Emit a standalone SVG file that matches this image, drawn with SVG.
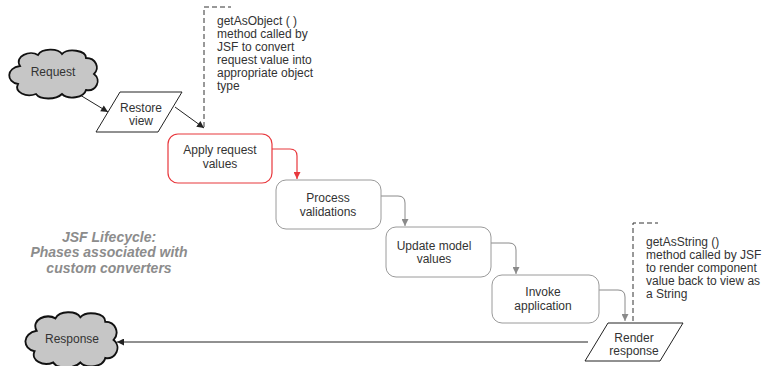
<svg xmlns="http://www.w3.org/2000/svg" width="767" height="366" viewBox="0 0 767 366">
  <style>
    .lbl { font-family: "Liberation Sans", Arial, sans-serif; font-size: 12px; fill: #333; text-anchor: middle; }
    .note { font-family: "Liberation Sans", Arial, sans-serif; font-size: 12px; fill: #333; }
    .title { font-family: "Liberation Sans", Arial, sans-serif; font-size: 14px; font-weight: bold; font-style: italic; fill: #8c8c8c; text-anchor: middle; }
    .cloud { fill: #c6c6c6; stroke: #111; stroke-width: 1.8; }
    .phase { fill: #fff; stroke: #9a9a9a; stroke-width: 1; }
    .active { fill: #fff; stroke: #e8383d; stroke-width: 1.2; }
    .para { fill: #fff; stroke: #222; stroke-width: 1; }
    .edge { fill: none; stroke: #222; stroke-width: 1; }
    .edge-red { fill: none; stroke: #e8383d; stroke-width: 1.2; }
    .edge-grey { fill: none; stroke: #8a8a8a; stroke-width: 1; }
    .dash { fill: none; stroke: #333; stroke-width: 1; stroke-dasharray: 5 3; }
  </style>
  <defs>
    <marker id="arrow-black" viewBox="0 0 10 10" refX="10" refY="5" markerWidth="8" markerHeight="7" markerUnits="userSpaceOnUse" orient="auto">
      <path d="M0,0 L10,5 L0,10 Z" fill="#222"/>
    </marker>
    <marker id="arrow-red" viewBox="0 0 10 10" refX="10" refY="5" markerWidth="8" markerHeight="7" markerUnits="userSpaceOnUse" orient="auto">
      <path d="M0,0 L10,5 L0,10 Z" fill="#e8383d"/>
    </marker>
    <marker id="arrow-grey" viewBox="0 0 10 10" refX="10" refY="5" markerWidth="8" markerHeight="7" markerUnits="userSpaceOnUse" orient="auto">
      <path d="M0,0 L10,5 L0,10 Z" fill="#8a8a8a"/>
    </marker>
    <path id="cloud-shape" d="M20,66 C14,56 30,50 38,55 C42,48 58,48 62,54 C68,48 86,50 86,58 C96,58 100,68 94,74 C102,80 96,92 86,90 C84,98 68,100 62,94 C56,100 40,100 36,94 C26,98 14,92 18,84 C6,82 6,68 20,66 Z"/>
  </defs>

  <!-- connectors -->
  <g id="connectors">
    <line class="edge" x1="80" y1="95" x2="108" y2="112" marker-end="url(#arrow-black)"/>
    <line class="edge" x1="175" y1="107" x2="204" y2="128" marker-end="url(#arrow-black)"/>
    <path class="edge-red" d="M272,149 L290,149 Q297,149 297,156 L297,179" marker-end="url(#arrow-red)"/>
    <path class="edge-grey" d="M381,196 L398,196 Q405,196 405,203 L405,226" marker-end="url(#arrow-grey)"/>
    <path class="edge-grey" d="M491,243 L509,243 Q516,243 516,250 L516,274" marker-end="url(#arrow-grey)"/>
    <path class="edge-grey" d="M599,290 L618,290 Q625,290 625,297 L625,321" marker-end="url(#arrow-grey)"/>
    <line class="edge" x1="588" y1="342" x2="117" y2="342" marker-end="url(#arrow-black)"/>
  </g>

  <!-- nodes -->
  <g id="request">
    <use href="#cloud-shape" class="cloud"/>
    <text class="lbl" x="53" y="76">Request</text>
  </g>

  <g id="restore-view">
    <polygon class="para" points="120,92 182,92 158,132 96,132"/>
    <text class="lbl" x="141" y="112">Restore</text>
    <text class="lbl" x="141" y="125">view</text>
  </g>

  <g id="apply-request-values">
    <rect class="active" x="168" y="134" width="104" height="49" rx="10"/>
    <text class="lbl" x="220" y="154">Apply request</text>
    <text class="lbl" x="220" y="168">values</text>
  </g>

  <g id="process-validations">
    <rect class="phase" x="276" y="180" width="105" height="49" rx="10"/>
    <text class="lbl" x="328" y="202">Process</text>
    <text class="lbl" x="328" y="216">validations</text>
  </g>

  <g id="update-model-values">
    <rect class="phase" x="386" y="227" width="105" height="50" rx="10"/>
    <text class="lbl" x="434" y="250">Update model</text>
    <text class="lbl" x="434" y="263">values</text>
  </g>

  <g id="invoke-application">
    <rect class="phase" x="492" y="275" width="107" height="48" rx="10"/>
    <text class="lbl" x="543" y="296">Invoke</text>
    <text class="lbl" x="543" y="310">application</text>
  </g>

  <g id="render-response">
    <polygon class="para" points="608,323 683,323 660,361 585,361"/>
    <text class="lbl" x="634" y="342">Render</text>
    <text class="lbl" x="634" y="355">response</text>
  </g>

  <g id="response">
    <use href="#cloud-shape" class="cloud" transform="translate(72,341) scale(1.04,1.13) translate(-54,-75)"/>
    <text class="lbl" x="72" y="343">Response</text>
  </g>

  <!-- converter notes -->
  <g id="note-get-as-object">
    <polyline class="dash" points="204,127 204,7 231,7"/>
    <text class="note" x="217" y="25">getAsObject ( )</text>
    <text class="note" x="217" y="38">method called by</text>
    <text class="note" x="217" y="51">JSF to convert</text>
    <text class="note" x="217" y="64">request value into</text>
    <text class="note" x="217" y="77">appropriate object</text>
    <text class="note" x="217" y="90">type</text>
  </g>

  <g id="note-get-as-string">
    <polyline class="dash" points="633,321 633,223 658,223"/>
    <text class="note" x="646" y="246">getAsString ()</text>
    <text class="note" x="646" y="259">method called by JSF</text>
    <text class="note" x="646" y="272">to render component</text>
    <text class="note" x="646" y="285">value back to view as</text>
    <text class="note" x="646" y="298">a String</text>
  </g>

  <g id="caption">
    <text class="title" x="109" y="242">JSF Lifecycle:</text>
    <text class="title" x="109" y="257">Phases associated with</text>
    <text class="title" x="109" y="273">custom converters</text>
  </g>
</svg>
